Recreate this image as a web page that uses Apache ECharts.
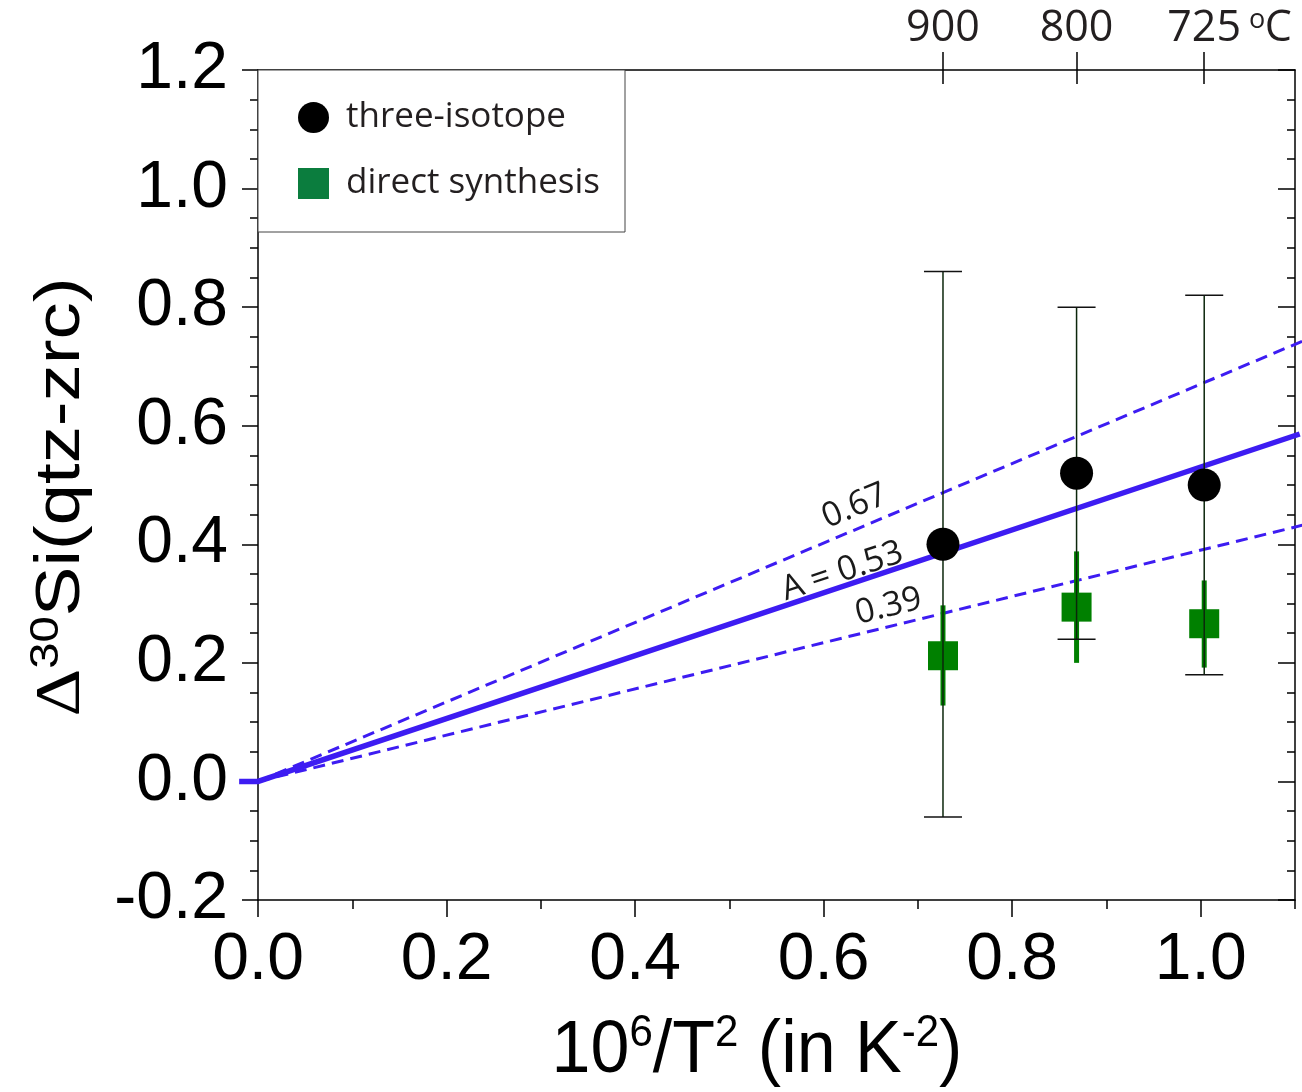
<!DOCTYPE html>
<html><head><meta charset="utf-8">
<script src="https://cdn.jsdelivr.net/npm/echarts@6/dist/echarts.min.js"></script>
<style>html,body{margin:0;padding:0;background:#fff}#c{width:1302px;height:1092px}</style>
</head><body><div id="c"></div>
<script>
// ---- data ----
const xTickValues = [0.0, 0.2, 0.4, 0.6, 0.8, 1.0];
const tempX = [0.7266, 0.8683, 1.0037];
const tempLabels = ['900', '800', '725'];

const isoX = [0.7266, 0.8683, 1.0037];
const isoY = [0.40, 0.52, 0.50];
const isoLow = [-0.06, 0.24, 0.18];
const isoHigh = [0.86, 0.80, 0.82];

const synX = [0.7266, 0.8683, 1.0037];
const synY = [0.212, 0.294, 0.266];
const synLow = [0.128, 0.200, 0.192];
const synHigh = [0.297, 0.388, 0.339];

const fitLine = [[-0.02, 0], [0, 0], [1.105, 0.586]];
const upperLine = [[0, 0], [1.11, 0.744]];
const lowerLine = [[0, 0], [1.11, 0.433]];

const annX = [0.633, 0.620, 0.669];
const annY = [0.464, 0.354, 0.295];
const annText = ['0.67', 'A = 0.53', '0.39'];
const annAngle = [22.8, 18.4, 13.8];

// ---- chart ----
const chart = echarts.init(document.getElementById('c'), null, {renderer: 'canvas'});
const BLUE = '#3d1cf2';
const AXC = {color: '#000', width: 1.5};

function errBar(capHalf, color, width, capColor) {
  return function (params, api) {
    const x = api.value(0), lo = api.value(1), hi = api.value(2);
    const p1 = api.coord([x, hi]), p2 = api.coord([x, lo]);
    const ch = [{type: 'line', shape: {x1: p1[0], y1: p1[1], x2: p2[0], y2: p2[1]},
                 style: {stroke: color, lineWidth: width}}];
    if (capHalf > 0) {
      ch.push({type: 'line', shape: {x1: p1[0] - capHalf, y1: p1[1], x2: p1[0] + capHalf, y2: p1[1]},
               style: {stroke: capColor, lineWidth: 1.5}});
      ch.push({type: 'line', shape: {x1: p2[0] - capHalf, y1: p2[1], x2: p2[0] + capHalf, y2: p2[1]},
               style: {stroke: capColor, lineWidth: 1.5}});
    }
    return {type: 'group', children: ch};
  };
}

function polyRender(width, dash) {
  return function (params, api) {
    const pts = [];
    for (let k = 0; k + 1 < 8; k += 2) {
      const vx = api.value(k), vy = api.value(k + 1);
      if (vx === undefined || vx === null || isNaN(vx)) break;
      pts.push(api.coord([vx, vy]));
    }
    return {type: 'polyline', shape: {points: pts},
            style: {stroke: BLUE, lineWidth: width, fill: null, lineDash: dash, lineCap: 'butt'}};
  };
}
const flat = arr => [arr.reduce((a, p) => a.concat(p), [])];

const baseX = {type: 'value', min: 0, max: 1.1, interval: 0.1, splitLine: {show: false}};
const yBase = {type: 'value', min: -0.2, max: 1.2, interval: 0.2, splitLine: {show: false}};

const option = {
  animation: false,
  backgroundColor: '#fff',
  grid: {left: 258, top: 70, width: 1037, height: 830, containLabel: false},
  legend: {
    left: 258, top: 70, orient: 'vertical',
    padding: [30, 25, 31, 40], itemGap: 31, itemWidth: 31, itemHeight: 31,
    backgroundColor: '#fff', borderColor: '#444', borderWidth: 1,
    selectedMode: false,
    textStyle: {fontSize: 35, fontFamily: 'Open Sans', color: '#231f20', padding: [0, 0, 0, 12]},
    data: [
      {name: 'three-isotope', icon: 'circle', itemStyle: {color: '#000'}},
      {name: 'direct synthesis', icon: 'rect', itemStyle: {color: '#0b7d3e'}}
    ]
  },
  xAxis: [
    Object.assign({}, baseX, {
      position: 'bottom',
      axisLine: {show: true, onZero: false, lineStyle: AXC},
      axisTick: {show: true, length: 17, customValues: xTickValues, lineStyle: AXC},
      axisLabel: {show: true, customValues: xTickValues, formatter: v => v.toFixed(1),
                  fontSize: 66, fontFamily: 'Liberation Sans', color: '#000', margin: 28}
    }),
    Object.assign({}, baseX, {
      position: 'bottom',
      axisLine: {show: false, onZero: false},
      axisTick: {show: true, length: 9, lineStyle: AXC},
      axisLabel: {show: false}
    }),
    Object.assign({}, baseX, {
      position: 'top',
      axisLine: {show: true, onZero: false, lineStyle: AXC},
      axisTick: {show: true, length: 18, customValues: tempX, lineStyle: AXC},
      axisLabel: {show: true, customValues: tempX, margin: 20,
        formatter: v => {
          const i = tempX.indexOf(v);
          const t = i >= 0 ? tempLabels[i] : '';
          return i === 2 ? '{p|}{n|' + t + '}{s|o}{c|C}' : '{n|' + t + '}';
        },
        rich: {
          n: {fontSize: 43, fontFamily: 'Open Sans', color: '#231f20'},
          p: {width: 50},
          s: {fontSize: 27, fontFamily: 'Open Sans', color: '#231f20', verticalAlign: 'top', padding: [0, 0, 0, 8]},
          c: {fontSize: 43, fontFamily: 'Open Sans', color: '#231f20', width: 26}
        }
      }
    }),
    Object.assign({}, baseX, {
      position: 'top',
      axisLine: {show: false, onZero: false},
      axisTick: {show: true, inside: true, length: 14, customValues: tempX, lineStyle: AXC},
      axisLabel: {show: false}
    })
  ],
  yAxis: [
    Object.assign({}, yBase, {
      position: 'left',
      axisLine: {show: true, onZero: false, lineStyle: AXC},
      axisTick: {show: true, length: 16, lineStyle: AXC},
      minorTick: {show: true, splitNumber: 4, length: 8, lineStyle: AXC},
      axisLabel: {show: true, formatter: v => v.toFixed(1), fontSize: 66,
                  fontFamily: 'Liberation Sans', color: '#000', margin: 30}
    }),
    Object.assign({}, yBase, {
      position: 'right',
      axisLine: {show: true, onZero: false, lineStyle: AXC},
      axisTick: {show: true, inside: true, length: 17, lineStyle: AXC},
      minorTick: {show: true, splitNumber: 4, length: 8, lineStyle: AXC},
      axisLabel: {show: false}
    })
  ],
  series: [
    {name: 'fitUpper', type: 'custom', z: 2, clip: false, silent: true,
     data: flat(upperLine), renderItem: polyRender(3, [12, 7])},
    {name: 'fitLower', type: 'custom', z: 2, clip: false, silent: true,
     data: flat(lowerLine), renderItem: polyRender(3, [12, 7])},
    {name: 'fit', type: 'custom', z: 3, clip: false, silent: true,
     data: flat(fitLine), renderItem: polyRender(5.5, null)},
    {name: 'synErr', type: 'custom', z: 4,
     data: synX.map((x, i) => [x, synLow[i], synHigh[i]]),
     encode: {x: 0, y: [1, 2]},
     renderItem: errBar(0, '#008000', 5, '#008000')},
    {name: 'direct synthesis', type: 'scatter', z: 5, symbol: 'rect', symbolSize: [30, 29],
     itemStyle: {color: '#008000', opacity: 1},
     data: synX.map((x, i) => [x, synY[i]])},
    {name: 'isoErr', type: 'custom', z: 6,
     data: isoX.map((x, i) => [x, isoLow[i], isoHigh[i]]),
     encode: {x: 0, y: [1, 2]},
     renderItem: errBar(19, '#0c260c', 1.5, '#111')},
    {name: 'three-isotope', type: 'scatter', z: 7, symbol: 'circle', symbolSize: 33,
     itemStyle: {color: '#000', opacity: 1},
     data: isoX.map((x, i) => [x, isoY[i]])},
    {name: 'annotations', type: 'scatter', z: 8, symbolSize: 1, silent: true,
     itemStyle: {color: 'rgba(0,0,0,0)'},
     label: {show: true, position: 'inside', fontSize: 34, fontFamily: 'Open Sans', color: '#1a1a1a',
             opacity: 1, formatter: p => annText[p.dataIndex]},
     data: annX.map((x, i) => ({value: [x, annY[i]], label: {rotate: annAngle[i]}}))}
  ],
  graphic: [
    {type: 'text', x: 62, y: 497, rotation: Math.PI / 2, scaleX: 1.18, z: 100,
     style: {text: '{d|Δ}{s|30}{m|Si(qtz-zrc)}', align: 'center', verticalAlign: 'middle',
       rich: {
         d: {fontSize: 63, fontFamily: 'Liberation Serif', color: '#000', lineHeight: 70},
         s: {fontSize: 40, fontFamily: 'Liberation Sans', color: '#000', lineHeight: 40, verticalAlign: 'top'},
         m: {fontSize: 63, fontFamily: 'Liberation Sans', color: '#000', lineHeight: 70}
       }}},
    {type: 'text', x: 757, y: 1052, scaleY: 1.05, z: 100,
     style: {text: '{m|10}{s|6}{m|/T}{s|2}{m| (in K}{s|-2}{m|)}', align: 'center', verticalAlign: 'middle',
       rich: {
         m: {fontSize: 70, fontFamily: 'Liberation Sans', color: '#000', lineHeight: 76},
         s: {fontSize: 42, fontFamily: 'Liberation Sans', color: '#000', lineHeight: 42, verticalAlign: 'top'}
       }}}
  ]
};
chart.setOption(option);
</script></body></html>
